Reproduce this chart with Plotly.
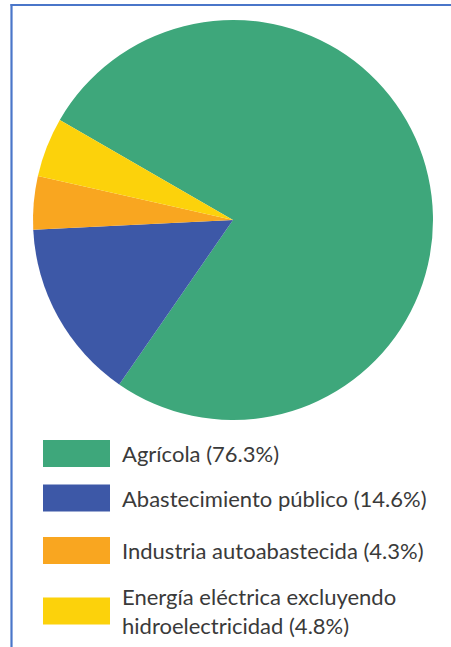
import plotly.graph_objects as go

categories = ["Agrícola", "Abastecimiento público", "Industria autoabastecida",
              "Energía eléctrica excluyendo<br>hidroelectricidad"]
values = [76.3, 14.6, 4.3, 4.8]
colors = ["#3ea77b", "#3d58a7", "#f9a620", "#fcd20b"]

W, H = 451, 647
fig = go.Figure()
fig.add_trace(go.Pie(
    labels=[c.replace("<br>", " ") for c in categories], values=values, sort=False,
    direction="clockwise", rotation=-60,
    marker=dict(colors=colors, line=dict(width=0)),
    textinfo="none", hoverinfo="label+percent", showlegend=False,
    domain=dict(x=[33 / W, 433 / W], y=[1 - 420 / H, 1 - 20 / H]),
))

# frame lines (left and top)
border = "#4a76c9"
fig.add_shape(type="line", xref="paper", yref="paper", x0=11.5 / W, x1=11.5 / W,
              y0=0, y1=1 - 4 / H, line=dict(color=border, width=2.2))
fig.add_shape(type="line", xref="paper", yref="paper", x0=10.5 / W, x1=1,
              y0=1 - 5 / H, y1=1 - 5 / H, line=dict(color=border, width=2.2))

# legend rows
row_centers = [453.5, 498, 550.5, 611]
for cat, val, col, yc in zip(categories, values, colors, row_centers):
    fig.add_shape(type="rect", xref="paper", yref="paper",
                  x0=43 / W, x1=110 / W, y0=1 - (yc + 13.5) / H, y1=1 - (yc - 13.5) / H,
                  fillcolor=col, line=dict(width=0))
    fig.add_annotation(xref="paper", yref="paper", x=120 / W, y=1 - yc / H,
                       xanchor="left", yanchor="middle", showarrow=False,
                       align="left", text=f"{cat} ({val}%)",
                       font=dict(family="Lato", size=22, color="#3a3a3a"))

fig.update_layout(width=W, height=H, margin=dict(l=0, r=0, t=0, b=0),
                  paper_bgcolor="white", plot_bgcolor="white")
fig.write_html("out.html", config={"displayModeBar": False},
               post_script="document.body.style.margin='0';document.body.style.overflow='hidden';")
